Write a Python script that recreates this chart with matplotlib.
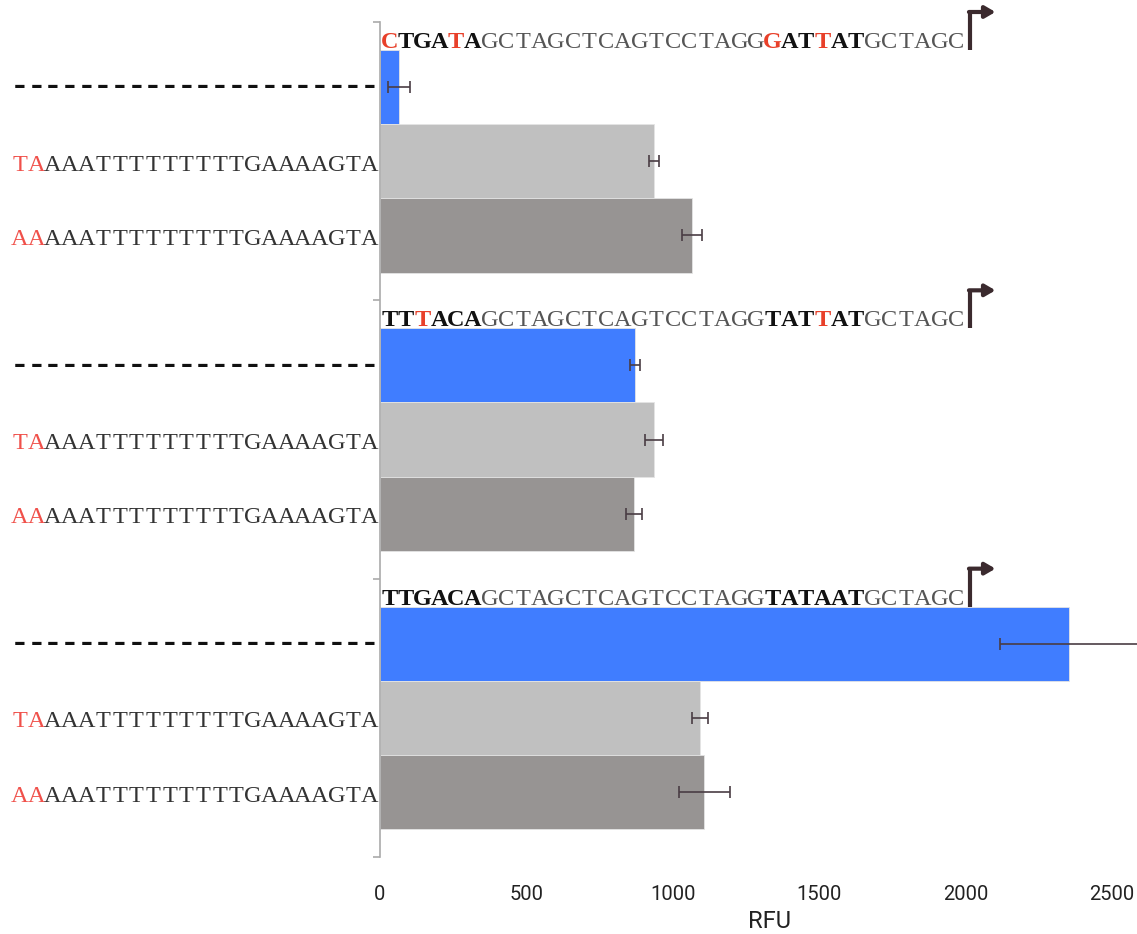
import matplotlib
matplotlib.use('Agg')
import matplotlib.pyplot as plt
from matplotlib import transforms

# promoter sequences shown above each group, with bold / red positions
promoters = ['CTGATAGCTAGCTCAGTCCTAGGGATTATGCTAGC',
             'TTTACAGCTAGCTCAGTCCTAGGTATTATGCTAGC',
             'TTGACAGCTAGCTCAGTCCTAGGTATAATGCTAGC']
promoter_bold = [list(range(0, 6)) + list(range(23, 29))] * 3
promoter_red = [[0, 4, 23, 26], [2, 26], []]

# variants drawn in each group (red prefix + rest)
variant_prefix = ['\u2013' * 22, 'TA', 'AA']
variant_rest = ['', 'AAATTTTTTTTTGAAAAGTA', 'AAATTTTTTTTTGAAAAGTA']
variant_colors = ['#407dff', '#c0c0c0', '#979493']

rfu_mean = [[65, 936, 1066],
            [871, 936, 867],
            [2353, 1093, 1107]]
rfu_err = [[38, 17, 34],
           [17, 32, 27],
           [236, 27, 87]]

DPI = 100
FIG_W, FIG_H = 1137, 934
GROUP_STEP = 3.75
GAP = 0.375
PX_PER_UNIT = 74.2
FS = 17.5
ADV = 16.67  # fixed character cell width in pixels

fig = plt.figure(figsize=(FIG_W / DPI, FIG_H / DPI), dpi=DPI)
ax = fig.add_axes([380 / FIG_W, (FIG_H - 857) / FIG_H, 1 - 380 / FIG_W, (857 - 22) / FIG_H])

# x in figure inches, y in data units
tr = transforms.blended_transform_factory(fig.dpi_scale_trans, ax.transData)


def draw_chars(x0_px, y, text, bold=(), red=(), red_color='#e8402a',
               base_color='#333333', bold_color='#111111',
               family='Liberation Serif', size=FS):
    # each glyph centred in its own cell, so the row reads as monospaced
    for i, ch in enumerate(text):
        color = red_color if i in red else (bold_color if i in bold else base_color)
        ax.text((x0_px + (i + 0.5) * ADV) / DPI, y, ch, transform=tr, fontsize=size,
                family=family, fontweight='bold' if i in bold else 'normal',
                color=color, ha='center', va='baseline', clip_on=False)


for g in range(3):
    top = g * GROUP_STEP
    for k in range(3):
        yc = top + GAP + k + 0.5
        ax.barh(yc, rfu_mean[g][k], height=1.0, color=variant_colors[k],
                edgecolor='#e4e4e4', linewidth=0.6)
        ax.errorbar(rfu_mean[g][k], yc, xerr=rfu_err[g][k], fmt='none',
                    ecolor='#4a3d44', elinewidth=1.2, capsize=4.5, capthick=1.2,
                    clip_on=True)

        # left label
        label = variant_prefix[k] + variant_rest[k]
        x0 = 378 - len(label) * ADV
        if k == 0:
            draw_chars(x0, yc + 6.5 / PX_PER_UNIT, label, bold=range(len(label)),
                       base_color='#111111', bold_color='#111111',
                       family='DejaVu Sans', size=17)
        else:
            draw_chars(x0, yc + 9.5 / PX_PER_UNIT, label, red=range(2),
                       red_color='#f0504a', base_color='#333333')

    # promoter sequence above the group
    seq = promoters[g]
    base_y = top + 0.35
    draw_chars(381, base_y, seq, bold=set(promoter_bold[g]), red=set(promoter_red[g]),
               base_color='#555555', bold_color='#111111')

    # transcription start arrow
    xa = (381 + len(seq) * ADV + 6) / DPI
    y_bar = top + GAP
    y_turn = top - 10 / PX_PER_UNIT
    ax.plot([xa, xa], [y_bar, y_turn], transform=tr, color='#3b2a2e', lw=3,
            solid_capstyle='butt', clip_on=False)
    ax.annotate('', xy=(xa + 0.25, y_turn), xytext=(xa - 0.015, y_turn),
                xycoords=tr, textcoords=tr,
                arrowprops=dict(arrowstyle='-|>,head_length=0.6,head_width=0.35',
                                color='#3b2a2e', lw=3, shrinkA=0, shrinkB=0),
                annotation_clip=False)

ax.set_xlim(0, 2585)
ax.set_ylim(3 * GROUP_STEP, 0)

for side in ['top', 'right', 'bottom']:
    ax.spines[side].set_visible(False)
ax.spines['left'].set_color('#aaaaaa')
ax.spines['left'].set_linewidth(1.2)

ax.set_yticks([g * GROUP_STEP for g in range(4)])
ax.set_yticklabels([])
ax.tick_params(axis='y', length=5, color='#aaaaaa', width=1.2, direction='out')

ax.set_xticks([0, 500, 1000, 1500, 2000, 2500])
ax.tick_params(axis='x', length=0, pad=20, labelsize=14.5, labelcolor='#222222')
for lbl in ax.get_xticklabels():
    lbl.set_family('Roboto')

fig.text(770 / FIG_W, (FIG_H - 922) / FIG_H, 'RFU', ha='center', va='center',
         fontsize=17, family='Roboto', color='#222222')

fig.savefig('out.png', dpi=DPI)
